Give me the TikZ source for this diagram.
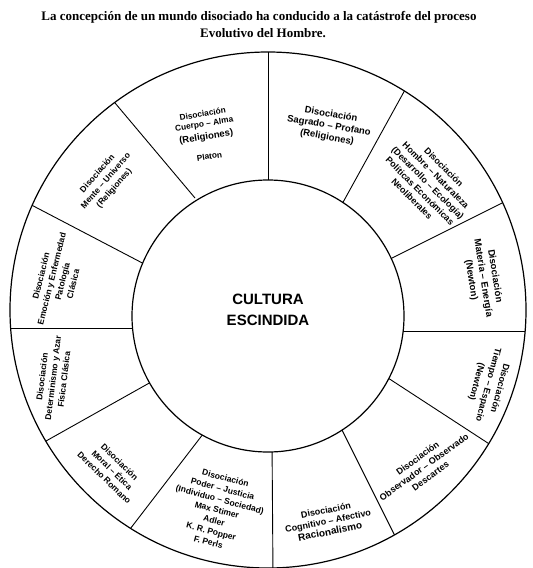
\documentclass[tikz,border=0pt]{standalone}
\usepackage{fontspec}
\setmainfont{Liberation Serif}
\setsansfont{Liberation Sans}
\begin{document}
\begin{tikzpicture}[x=1pt,y=-1pt,
  sec/.style={font=\sffamily\bfseries\fontsize{8.5}{11}\selectfont, align=center, inner sep=0pt},
  ttl/.style={font=\rmfamily\bfseries\fontsize{13}{15}\selectfont, inner sep=0pt},
  ring/.style={line width=1.2pt},
  spoke/.style={line width=0.9pt}]
\useasboundingbox[fill=white] (0,0) rectangle (533,568);
% title
\node[ttl] (t1) at (259,17) {La concepción de un mundo disociado ha conducido a la catástrofe del proceso};
\node[ttl] (t2) at (263,33) {Evolutivo del Hombre.};
% outer ring
\coordinate (O) at (268,310);
\coordinate (I) at (268,316);
\begin{scope}
\clip (O) circle (258pt);
\draw[spoke] (268,40) -- (268,200);
\draw[spoke] (411,79) -- (336,215);
\draw[spoke] (510,199) -- (370,269);
\draw[spoke] (540,331) -- (380,331);
\draw[spoke] (497,449) -- (365,363);
\draw[spoke] (399,544) -- (335,416);
\draw[spoke] (273,575) -- (272,440);
\draw[spoke] (127,533) -- (210,425);
\draw[spoke] (30,450) -- (160,377);
\draw[spoke] (0,328) -- (150,328);
\draw[spoke] (20,199) -- (150,267);
\draw[spoke] (110,97) -- (195,198);
\end{scope}
\draw[ring] (O) circle (258pt);
\draw[ring, fill=white] (I) circle (136pt);
% centre
\node[font=\sffamily\bfseries\fontsize{15}{21}\selectfont, align=center, inner sep=0pt] (c) at (268,310) {CULTURA\\ESCINDIDA};
% sectors
\node[sec, rotate=9, font=\sffamily\bfseries\fontsize{8.3}{10}\selectfont] (sA) at (206,135)
  {Disociación\\Cuerpo – Alma\\[3pt]{\fontsize{9.5}{11}\selectfont (Religiones)}\\[10pt]Platon};
\node[sec, rotate=-10, font=\sffamily\bfseries\fontsize{9.5}{11.5}\selectfont] (sB) at (329,126)
  {Disociación\\Sagrado – Profano\\(Religiones)};
\node[sec, rotate=-45, font=\sffamily\bfseries\fontsize{9}{11.2}\selectfont] (sC) at (428,183)
  {Disociación\\Hombre – Naturaleza\\(Desarrollo – Ecología)\\Políticas Económicas\\Neoliberales};
\node[sec, rotate=-81, font=\sffamily\bfseries\fontsize{9.5}{12}\selectfont] (sD) at (483,278)
  {Disociación\\Materia – Energía\\(Newton)};
\node[sec, rotate=-105, font=\sffamily\bfseries\fontsize{9}{12}\selectfont] (sE) at (488,385)
  {Disociación\\Tiempo – Espacio\\(Newton)};
\node[sec, rotate=36, font=\sffamily\bfseries\fontsize{9}{11}\selectfont] (sF) at (424,467)
  {Disociación\\Observador – Observado\\Descartes};
\node[sec, rotate=11, font=\sffamily\bfseries\fontsize{9}{11}\selectfont] (sG) at (328,521)
  {Disociación\\Cognitivo – Afectivo\\{\fontsize{10}{11}\selectfont Racionalismo}};
\node[sec, rotate=-15] (sH) at (217,510)
  {Disociación\\Poder – Justicia\\(Individuo – Sociedad)\\Max Stimer\\Adler\\K. R. Popper\\F. Perls};
\node[sec, rotate=-44] (sI) at (112,470)
  {Disociación\\Moral – Ética\\Derecho Romano};
\node[sec, rotate=83] (sJ) at (53,378)
  {Disociación\\Determinismo y Azar\\Física Clásica};
\node[sec, rotate=76] (sK) at (57,280)
  {Disociación\\Emoción y Enfermedad\\Patología\\Clásica};
\node[sec, rotate=49] (sL) at (106,181)
  {Disociación\\Mente – Universo\\(Religiones)};
\end{tikzpicture}
\end{document}
